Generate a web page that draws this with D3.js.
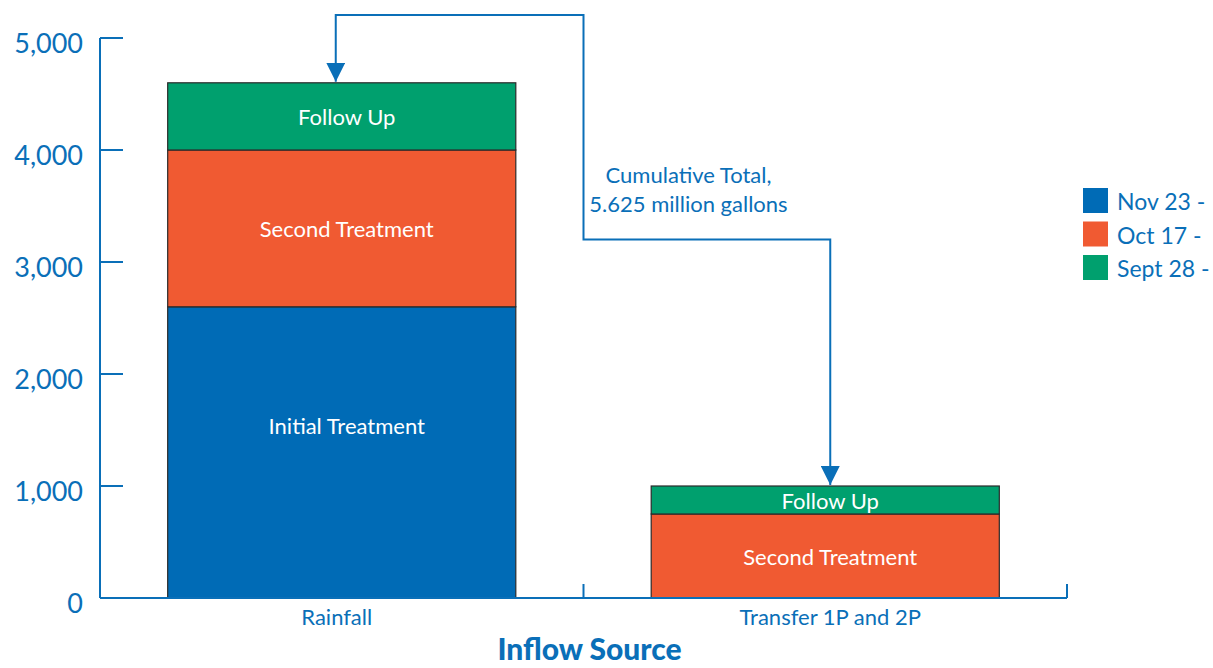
<!DOCTYPE html>
<html>
<head>
<meta charset="utf-8">
<script src="https://cdn.jsdelivr.net/npm/d3@7"></script>
<style>
  body { margin: 0; background: #fff; }
  svg text { font-family: Lato, "Open Sans", sans-serif; }
</style>
</head>
<body>
<svg id="chart" width="1213" height="668"></svg>
<script>
// chart data
const categories = ['Rainfall', 'Transfer 1P and 2P'];
const stages = ['Initial Treatment', 'Second Treatment', 'Follow Up'];
const initialTreatment = [2600, 0];
const secondTreatment = [1400, 750];
const followUp = [600, 250];
const legendLabels = ['Nov 23 -', 'Oct 17 -', 'Sept 28 -'];
const yTicks = [0, 1000, 2000, 3000, 4000, 5000];
const annotationLines = ['Cumulative Total,', '5.625 million gallons'];

const colors = {
  'Initial Treatment': '#006bb6',
  'Second Treatment': '#f05a32',
  'Follow Up': '#00a06e'
};
const textBlue = '#0a6fb8';

const svg = d3.select('#chart');
const margin = { top: 38, right: 146, bottom: 70, left: 100 };
const width = 1213 - margin.left - margin.right;
const height = 668 - margin.top - margin.bottom;

const g = svg.append('g').attr('transform', `translate(${margin.left},${margin.top})`);

const x = d3.scaleBand().domain(categories).range([0, width]).paddingInner(0.28).paddingOuter(0.14);
const y = d3.scaleLinear().domain([0, 5000]).range([height, 0]);

// stack the series
const rows = categories.map((c, i) => ({
  category: c,
  'Initial Treatment': initialTreatment[i],
  'Second Treatment': secondTreatment[i],
  'Follow Up': followUp[i]
}));
const series = d3.stack().keys(stages)(rows);

// bars
const layer = g.selectAll('.layer')
  .data(series)
  .join('g')
  .attr('class', 'layer')
  .attr('fill', (d) => colors[d.key]);

layer.selectAll('rect')
  .data((d) => d.map((p) => ({ key: d.key, p })).filter((s) => s.p[1] > s.p[0]))
  .join('rect')
  .attr('x', (d) => x(d.p.data.category))
  .attr('y', (d) => y(d.p[1]))
  .attr('width', x.bandwidth())
  .attr('height', (d) => y(d.p[0]) - y(d.p[1]))
  .attr('stroke', '#2a2a2a')
  .attr('stroke-width', 1.2);

// segment labels (initial treatment label sits a bit higher than centre)
const labelShift = { 'Initial Treatment': -27 };
layer.selectAll('text')
  .data((d) => d.map((p) => ({ key: d.key, p })).filter((s) => s.p[1] > s.p[0]))
  .join('text')
  .attr('x', (d) => x(d.p.data.category) + x.bandwidth() / 2 + 5)
  .attr('y', (d) => (y(d.p[0]) + y(d.p[1])) / 2 + (labelShift[d.key] || 0))
  .attr('text-anchor', 'middle')
  .attr('dominant-baseline', 'central')
  .attr('fill', '#fff')
  .attr('font-size', 22)
  .text((d) => d.key);

// y axis
g.append('line')
  .attr('x1', 0).attr('x2', 0)
  .attr('y1', y(5000)).attr('y2', y(0))
  .attr('stroke', textBlue).attr('stroke-width', 2);

const yt = g.selectAll('.ytick').data(yTicks).join('g').attr('class', 'ytick')
  .attr('transform', (d) => `translate(0,${y(d)})`);
yt.append('line')
  .attr('x1', 0).attr('x2', 23)
  .attr('stroke', (d) => (d === 0 ? '#222' : textBlue))
  .attr('stroke-width', 2);
yt.append('text')
  .attr('x', -17)
  .attr('dy', '0.55em')
  .attr('text-anchor', 'end')
  .attr('fill', textBlue)
  .attr('font-size', 27)
  .text((d) => d3.format(',')(d));

// x axis
g.append('line')
  .attr('x1', 0).attr('x2', width)
  .attr('y1', height).attr('y2', height)
  .attr('stroke', textBlue).attr('stroke-width', 2);

g.selectAll('.xtick').data([x.step(), width]).join('line')
  .attr('class', 'xtick')
  .attr('x1', (d) => d).attr('x2', (d) => d)
  .attr('y1', height).attr('y2', height - 14)
  .attr('stroke', textBlue).attr('stroke-width', 2);

const catShift = [-5, 5];
g.selectAll('.xlabel').data(categories).join('text')
  .attr('class', 'xlabel')
  .attr('x', (d, i) => x(d) + x.bandwidth() / 2 + catShift[i])
  .attr('y', height + 27)
  .attr('text-anchor', 'middle')
  .attr('fill', textBlue)
  .attr('font-size', 22)
  .text((d) => d);

g.append('text')
  .attr('x', width / 2 + 6)
  .attr('y', height + 62)
  .attr('text-anchor', 'middle')
  .attr('fill', textBlue)
  .attr('font-size', 30)
  .attr('font-weight', 900)
  .text('Inflow Source');

// connector arrow between the two stacks
const totals = rows.map((r) => d3.sum(stages, (k) => r[k]));
const ax1 = x(categories[0]) + x.bandwidth() / 2 - 6;
const ax2 = x(categories[1]) + x.bandwidth() / 2 + 5;
const mid = x.step();
const topY = y(5000) - 23;
const elbowY = y(3200);

svg.append('defs').append('marker')
  .attr('id', 'arrow')
  .attr('viewBox', '0 0 10 10')
  .attr('refX', 10).attr('refY', 5)
  .attr('markerWidth', 19).attr('markerHeight', 19)
  .attr('markerUnits', 'userSpaceOnUse')
  .attr('orient', 'auto-start-reverse')
  .append('path')
  .attr('d', 'M0,0 L10,5 L0,10 Z')
  .attr('fill', textBlue);

const line = d3.line();
g.append('path')
  .attr('d', line([
    [ax1, y(totals[0]) - 1],
    [ax1, topY],
    [mid, topY],
    [mid, elbowY],
    [ax2, elbowY],
    [ax2, y(totals[1]) - 1]
  ]))
  .attr('fill', 'none')
  .attr('stroke', textBlue)
  .attr('stroke-width', 2)
  .attr('marker-start', 'url(#arrow)')
  .attr('marker-end', 'url(#arrow)');

g.selectAll('.note').data(annotationLines).join('text')
  .attr('class', 'note')
  .attr('x', mid + 105)
  .attr('y', (d, i) => y(3800) + 11 + i * 29)
  .attr('text-anchor', 'middle')
  .attr('fill', textBlue)
  .attr('font-size', 22)
  .text((d) => d);

// legend
const legend = svg.append('g').attr('transform', 'translate(1083,188)');
const legendColors = [colors['Initial Treatment'], colors['Second Treatment'], colors['Follow Up']];
const li = legend.selectAll('g').data(legendLabels).join('g')
  .attr('transform', (d, i) => `translate(0,${i * 33.5})`);
li.append('rect')
  .attr('width', 25).attr('height', 25)
  .attr('fill', (d, i) => legendColors[i]);
li.append('text')
  .attr('x', 34).attr('y', 13)
  .attr('dominant-baseline', 'central')
  .attr('fill', textBlue)
  .attr('font-size', 23)
  .text((d) => d);
</script>
</body>
</html>
